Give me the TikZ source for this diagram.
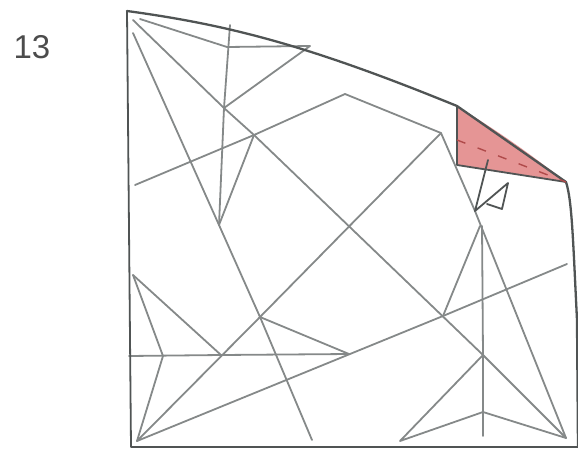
\documentclass[tikz,border=0pt]{standalone}
\usepackage{fontspec}
\setmainfont{Liberation Sans}
\definecolor{crease}{HTML}{858989}
\definecolor{edge}{HTML}{505454}
\definecolor{flap}{HTML}{E59595}
\definecolor{reddash}{HTML}{B04A4A}
\tikzset{
  creaseline/.style={draw=crease,line width=1.8pt,line cap=round,line join=round},
  edgeline/.style={draw=edge,line width=2.3pt,line cap=round,line join=round},
  thinedge/.style={draw=edge,line width=1.8pt,line cap=round,line join=round},
}
\begin{document}
\begin{tikzpicture}[x=1pt,y=-1pt]
\useasboundingbox (0,0) rectangle (578,450);
\node[text=black!70,font=\fontsize{33}{34}\selectfont,inner sep=0pt] (num) at (32,47) {13};
\coordinate (tl) at (127,11);
\coordinate (ar) at (230,25);
\coordinate (as) at (310,46);
\coordinate (fa) at (457,106);
\coordinate (fb) at (566,182);
\coordinate (fc) at (457,165);
\coordinate (br) at (578,447);
\coordinate (bl) at (131,447);
\coordinate (k) at (345,94);
\coordinate (p) at (441,133);
\coordinate (q) at (224,108);
\coordinate (r) at (254,135);
\coordinate (s) at (219,225);
\coordinate (t) at (227,47);
\coordinate (u) at (260,317);
\coordinate (v) at (349,354);
\coordinate (w) at (221,355);
\coordinate (a1) at (133,275);
\coordinate (a2) at (163,356);
\coordinate (c1) at (137,441);
\coordinate (d1) at (475,211);
\coordinate (e1) at (480,226);
\coordinate (e2) at (443,316);
\coordinate (g1) at (483,355);
\coordinate (g2) at (400,441);
\coordinate (g3) at (483,412);
\coordinate (c2) at (566,438);
% red flap
\fill[flap] (fa) to[bend left=3] (fb) -- (fc) -- cycle;
% creases
\draw[creaseline] (133,20) -- (q) -- (r) -- (g1) -- (c2);
\draw[creaseline] (133,33) -- (s) -- (u) -- (312,440);
\draw[creaseline] (135,185) -- (r) -- (k) -- (p);
\draw[creaseline] (ar) -- (q) -- (s);
\draw[creaseline] (140,19) -- (t) -- (as) -- (q);
\draw[creaseline] (r) -- (s);
\draw[creaseline] (c1) -- (u) -- (p);
\draw[creaseline] (p) -- (d1);
\draw[creaseline] (d1) -- (c2);
\draw[creaseline] (e1) -- (e2);
\draw[creaseline] (482,226) -- (g1) -- (483,436);
\draw[creaseline] (g1) -- (g2) -- (g3) -- (c2);
\draw[creaseline] (c1) -- (e2) -- (567,264);
\draw[creaseline] (a1) -- (a2) -- (c1);
\draw[creaseline] (a1) -- (w);
\draw[creaseline] (129,356) -- (w) -- (v);
\draw[creaseline] (u) -- (v);
% outline
\draw[edgeline] (tl) .. controls (ar) and (as) .. (fa) -- (fb) .. controls (572,200) and (573,240) .. (577,320) -- (br);
\draw[thinedge] (br) -- (bl) -- (tl);
\draw[thinedge] (fa) -- (fc) -- (fb);
% hidden line through flap
\draw[draw=reddash,line width=1.4pt,dash pattern=on 9pt off 13pt] (p) ++(16,7) -- (fb);
% fold arrow
\draw[thinedge] (488,160) -- (d1) -- (508,183) -- (502,209) -- (487,204);
\end{tikzpicture}
\end{document}
